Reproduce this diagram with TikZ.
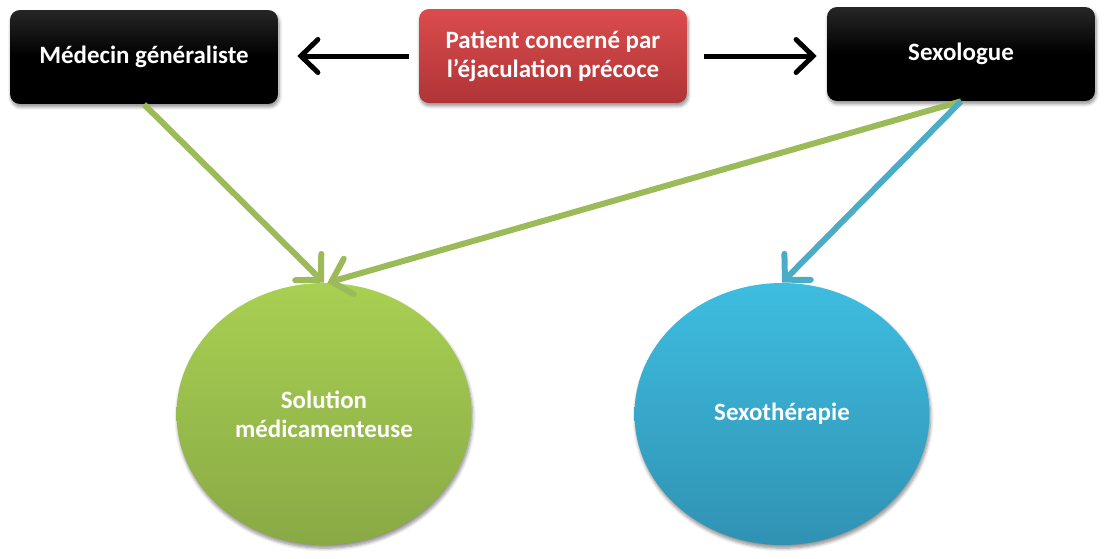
\documentclass[tikz,border=0pt]{standalone}
\usepackage{fontspec}
\setmainfont{Carlito}
\usetikzlibrary{arrows.meta, shapes.geometric, shadows.blur}
\definecolor{boxredtop}{HTML}{DB4C4D}
\definecolor{boxredbot}{HTML}{B03436}
\definecolor{greentop}{HTML}{A8D052}
\definecolor{greenbot}{HTML}{89A945}
\definecolor{bluetop}{HTML}{3EBDE0}
\definecolor{bluebot}{HTML}{3092B3}
\definecolor{linkgreen}{HTML}{9BBB59}
\definecolor{linkblue}{HTML}{4BACC6}

\begin{document}
\begin{tikzpicture}[x=0.02cm, y=-0.02cm,
	font=\bfseries\fontsize{14.2}{16.5}\selectfont,
	boxnode/.style={rectangle, rounded corners=0.2cm, minimum width=5.36cm,
		minimum height=1.88cm, text=white, align=center,
		blur shadow={shadow xshift=0.6pt, shadow yshift=-1.6pt, shadow blur steps=6, shadow opacity=45}},
	blackbox/.style={boxnode, top color=black!85, bottom color=black, middle color=black},
	redbox/.style={boxnode, top color=boxredtop, bottom color=boxredbot},
	roundnode/.style={ellipse, minimum width=5.9cm, minimum height=5.24cm, inner sep=0pt,
		text=white, align=center,
		blur shadow={shadow xshift=0.6pt, shadow yshift=-1.8pt, shadow blur steps=6, shadow opacity=45}},
	blackarrow/.style={line width=0.1cm, -{Straight Barb[length=0.34cm, width=0.66cm, line cap=round]}},
	linkarrow/.style={line width=0.12cm, -{Straight Barb[length=0.36cm, width=0.74cm, line cap=round]}}]
	\useasboundingbox (0,0) rectangle (1105,558);
	% Boxes
	\node[blackbox] (medecin) at (144,57) {Médecin généraliste};
	\node[redbox] (patient) at (553,56) {Patient concerné par\\l’éjaculation\ précoce};
	\node[blackbox] (sexologue) at (961,54) {Sexologue};
	% Ellipses
	\node[roundnode, top color=greentop, bottom color=greenbot] (solution) at (324,414) {Solution\\médicamenteuse};
	\node[roundnode, top color=bluetop, bottom color=bluebot] (sexotherapie) at (782,414) {Sexothérapie};
	% Arrows
	\draw[blackarrow, shorten <=0.2cm, shorten >=0.38cm] (patient.west) -- (medecin.east |- patient.west);
	\draw[blackarrow, shorten <=0.34cm, shorten >=0.2cm] (patient.east) -- (sexologue.west |- patient.east);
	\draw[linkarrow, linkgreen] (medecin.south) -- (solution.north);
	\draw[linkarrow, linkgreen] (sexologue.south) -- ([xshift=2pt]solution.north);
	\draw[linkarrow, linkblue] (sexologue.south) -- (sexotherapie.north);
\end{tikzpicture}
\end{document}
